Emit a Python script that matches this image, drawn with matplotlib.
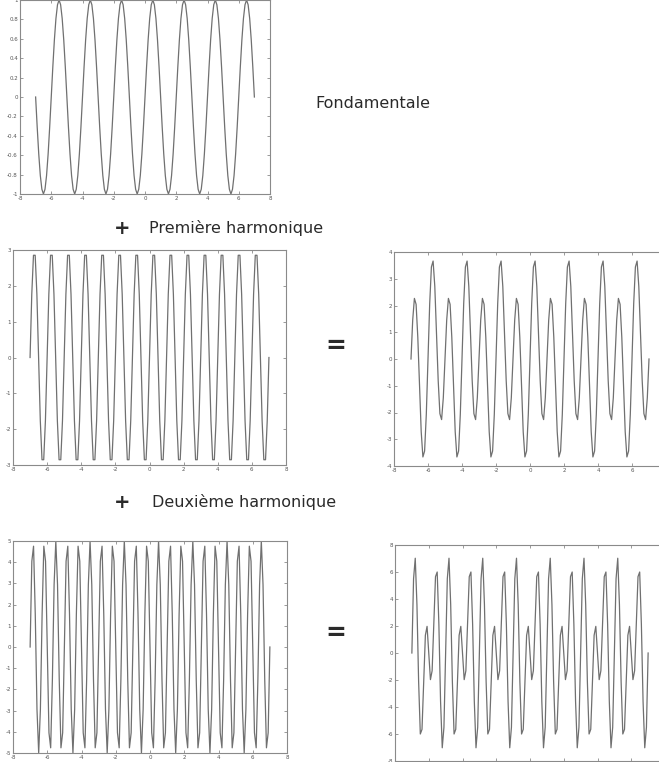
import numpy as np
import matplotlib
matplotlib.use("Agg")
import matplotlib.pyplot as plt

# sampled signal: x from -7 to 7, step 0.1
x_start, x_stop, x_step = -7.0, 7.0, 0.1
# harmonics: amplitude, multiple of pi, starting direction
amplitudes = [1, 3, 5]
harmonic_mult = [1, 2, 3]
start_sign = [1, 1, -1]   # the third one starts upward in the picture

panel_names = ["fond", "h1", "sum1", "h2", "sum2"]
ylims = {"fond": (-1, 1), "h1": (-3, 3), "sum1": (-4, 4), "h2": (-5, 5), "sum2": (-8, 8)}
ysteps = {"fond": 0.2, "h1": 1, "sum1": 1, "h2": 1, "sum2": 2}
x_ticks = [-8, -6, -4, -2, 0, 2, 4, 6, 8]

W, H = 659, 762
# panel boxes in pixels: left, right, top, bottom
boxes = {
    "fond": (20, 270, 0, 194),
    "h1": (13, 286, 250, 465),
    "sum1": (394, 666, 252, 466),
    "h2": (13, 287, 541, 753),
    "sum2": (395, 665, 545, 761),
}

x = np.round(np.arange(x_start, x_stop + x_step / 2, x_step), 10)
comps = [s * a * np.sin(m * np.pi * x)
         for a, m, s in zip(amplitudes, harmonic_mult, start_sign)]
series = {
    "fond": comps[0],
    "h1": comps[1],
    "sum1": comps[0] + comps[1],
    "h2": comps[2],
    "sum2": comps[0] + comps[1] + comps[2],
}

line_col = "#707070"
axis_col = "#8a8a8a"

fig = plt.figure(figsize=(W / 100, H / 100), dpi=100)

def fmt(v):
    s = ("%.1f" % v).rstrip("0").rstrip(".")
    return "0" if s in ("-0", "") else s

for name in panel_names:
    l, r, t, b = boxes[name]
    ax = fig.add_axes([l / W, 1 - b / H, (r - l) / W, (b - t) / H])
    ax.plot(x, series[name], color=line_col, lw=0.9)
    ax.set_xlim(-8, 8)
    lo, hi = ylims[name]
    ax.set_ylim(lo, hi)
    ax.set_xticks(x_ticks)
    ax.set_xticklabels([str(v) for v in x_ticks])
    yt = np.round(np.arange(lo, hi + ysteps[name] / 2, ysteps[name]), 6)
    ax.set_yticks(yt)
    ax.set_yticklabels([fmt(v) for v in yt])
    ax.tick_params(direction="in", length=2.5, width=0.6, colors=axis_col,
                   labelsize=4, pad=1.5, top=True, right=True,
                   labelcolor="#555555")
    for sp in ax.spines.values():
        sp.set_color(axis_col)
        sp.set_linewidth(0.8)

txt_kw = dict(fontfamily="DejaVu Sans", color="#2a2a2a", va="center")
fig.text(315 / W, 1 - 104 / H, "Fondamentale", fontsize=11.5, ha="left", **txt_kw)
fig.text(122 / W, 1 - 228 / H, "+", fontsize=14, fontweight="bold", ha="center", **txt_kw)
fig.text(149 / W, 1 - 228 / H, "Première harmonique", fontsize=11.5, ha="left", **txt_kw)
fig.text(122 / W, 1 - 502 / H, "+", fontsize=14, fontweight="bold", ha="center", **txt_kw)
fig.text(152 / W, 1 - 502 / H, "Deuxième harmonique", fontsize=11.5, ha="left", **txt_kw)
fig.text(336 / W, 1 - 346 / H, "=", fontsize=18, fontweight="bold", ha="center", **txt_kw)
fig.text(336 / W, 1 - 633 / H, "=", fontsize=18, fontweight="bold", ha="center", **txt_kw)

fig.savefig("out.png", dpi=100)
